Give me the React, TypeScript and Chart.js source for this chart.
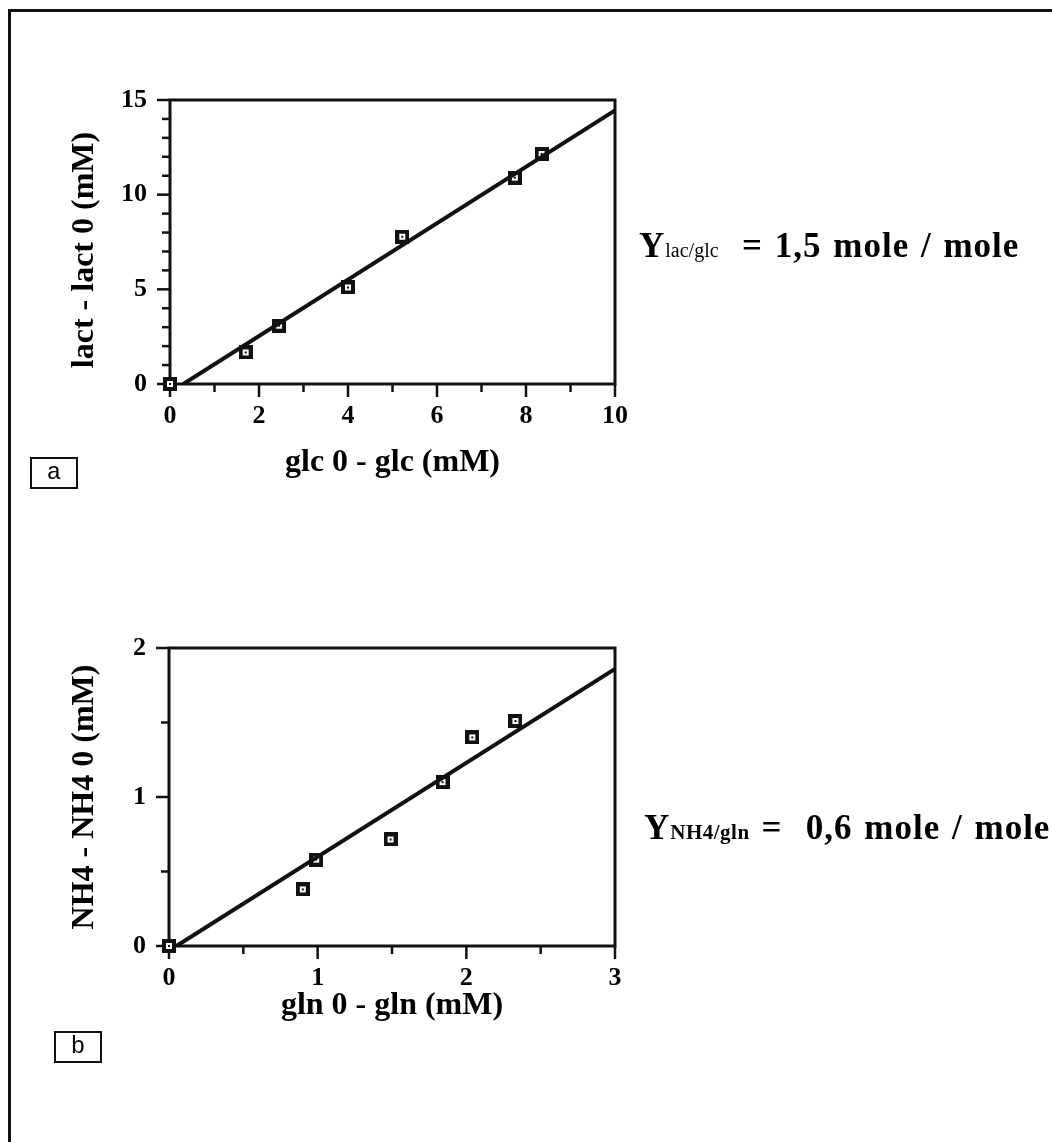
import React, { useEffect, useRef } from 'react';
import { Chart, registerables } from 'chart.js';

Chart.register(...registerables);

// ---- panel a : lactate produced vs glucose consumed ----
const glcConsumed = [0, 1.7, 2.45, 4.0, 5.22, 7.75, 8.35];
const lactProduced = [0, 1.67, 3.08, 5.1, 7.78, 10.9, 12.15];
const glcFitX = [0.3, 10];
const lactFitY = [0, 14.45];
const aXLabelled = [0, 2, 4, 6, 8, 10];
const aYLabelled = [0, 5, 10, 15];

// ---- panel b : ammonia produced vs glutamine consumed ----
const glnConsumed = [0, 0.9, 0.99, 1.49, 1.84, 2.04, 2.33];
const nh4Produced = [0, 0.38, 0.58, 0.715, 1.1, 1.4, 1.51];
const glnFitX = [0.05, 3];
const nh4FitY = [0, 1.86];
const bXLabelled = [0, 1, 2, 3];
const bYLabelled = [0, 1, 2];

const SERIF = "'Liberation Serif', 'Times New Roman', serif";

function makeMarker(): HTMLCanvasElement {
  const c = document.createElement('canvas');
  c.width = 14;
  c.height = 14;
  const g = c.getContext('2d')!;
  g.fillStyle = '#111';
  g.fillRect(0, 0, 14, 14);
  g.fillStyle = '#fff';
  g.fillRect(4, 4, 6, 6);
  g.fillStyle = '#111';
  g.fillRect(6, 6, 2, 2);
  return c;
}

const frameTicks = {
  id: 'frameTicks',
  beforeDatasetsDraw(chart: any) {
    const { ctx, chartArea } = chart;
    const { left, right, top, bottom } = chartArea;
    ctx.save();
    ctx.strokeStyle = '#111';
    ctx.lineWidth = 3;
    ctx.strokeRect(left, top, right - left, bottom - top);
    ctx.lineWidth = 2.5;
    const xs = chart.scales.x;
    const ys = chart.scales.y;
    xs.ticks.forEach((t: any, i: number) => {
      const px = xs.getPixelForTick(i);
      const len = t.label !== '' ? 13 : 8;
      ctx.beginPath();
      ctx.moveTo(px, bottom);
      ctx.lineTo(px, bottom + len);
      ctx.stroke();
    });
    ys.ticks.forEach((t: any, i: number) => {
      const py = ys.getPixelForTick(i);
      const len = t.label !== '' ? 13 : 8;
      ctx.beginPath();
      ctx.moveTo(left - len, py);
      ctx.lineTo(left, py);
      ctx.stroke();
    });
    ctx.restore();
  },
};

interface PanelProps {
  xs: number[];
  ys: number[];
  fitX: number[];
  fitY: number[];
  xMax: number;
  yMax: number;
  xStep: number;
  yStep: number;
  xLabelled: number[];
  yLabelled: number[];
  xTitle: string;
  yTitle: string;
  width: number;
  height: number;
  pad: { left: number; top: number; right: number; bottom: number };
  yWidth: number;
  xHeight: number;
}

function Panel(p: PanelProps) {
  const ref = useRef<HTMLCanvasElement>(null);
  useEffect(() => {
    const marker = makeMarker();
    const tickFont = { family: SERIF, size: 26, weight: 'bold' as const };
    const titleFont = { family: SERIF, size: 32, weight: 'bold' as const };
    const chart = new Chart(ref.current!, {
      type: 'scatter',
      data: {
        datasets: [
          {
            type: 'line',
            data: p.fitX.map((x, i) => ({ x, y: p.fitY[i] })),
            borderColor: '#111',
            borderWidth: 4,
            pointRadius: 0,
            fill: false,
          } as any,
          {
            type: 'scatter',
            data: p.xs.map((x, i) => ({ x, y: p.ys[i] })),
            pointStyle: marker,
            pointRadius: 7,
            clip: false,
          } as any,
        ],
      },
      options: {
        animation: false,
        responsive: false,
        events: [],
        layout: { padding: p.pad },
        plugins: { legend: { display: false }, tooltip: { enabled: false } },
        scales: {
          x: {
            type: 'linear',
            min: 0,
            max: p.xMax,
            grid: { display: false, drawTicks: false },
            border: { display: false },
            ticks: {
              stepSize: p.xStep,
              autoSkip: false,
              maxRotation: 0,
              padding: 17,
              color: '#000',
              font: tickFont,
              callback: (v: any) => (p.xLabelled.includes(Number(v)) ? String(v) : ''),
            },
            title: { display: true, text: p.xTitle, color: '#000', font: titleFont, padding: 0 },
            afterFit: (s: any) => {
              s.height = p.xHeight;
              s.paddingLeft = 0;
              s.paddingRight = 0;
            },
          },
          y: {
            type: 'linear',
            min: 0,
            max: p.yMax,
            grid: { display: false, drawTicks: false },
            border: { display: false },
            ticks: {
              stepSize: p.yStep,
              autoSkip: false,
              padding: 23,
              color: '#000',
              font: tickFont,
              callback: (v: any) => (p.yLabelled.includes(Number(v)) ? String(v) : ''),
            },
            title: { display: true, text: p.yTitle, color: '#000', font: titleFont, padding: 0 },
            afterFit: (s: any) => {
              s.width = p.yWidth;
              s.paddingTop = 0;
              s.paddingBottom = 0;
            },
          },
        },
      },
      plugins: [frameTicks],
    });
    return () => chart.destroy();
  }, []);
  return <canvas ref={ref} width={p.width} height={p.height} />;
}

const eqStyle: React.CSSProperties = {
  position: 'absolute',
  fontFamily: SERIF,
  fontWeight: 'bold',
  fontSize: 35,
  lineHeight: '40px',
  letterSpacing: '1px',
  wordSpacing: '2px',
  whiteSpace: 'pre',
  color: '#000',
};

const boxStyle: React.CSSProperties = {
  position: 'absolute',
  width: 44,
  height: 28,
  border: '2.5px solid #111',
  fontFamily: "'Liberation Mono', monospace",
  fontSize: 24,
  lineHeight: '28px',
  textAlign: 'center',
  color: '#000',
};

export default function App() {
  return (
    <div style={{ position: 'absolute', left: 0, top: 0, width: 1052, height: 1142, background: '#fff', overflow: 'hidden' }}>
      {/* figure frame */}
      <div style={{ position: 'absolute', left: 8, top: 9, width: 1044, height: 3, background: '#111' }} />
      <div style={{ position: 'absolute', left: 8, top: 9, width: 3, height: 1133, background: '#111' }} />

      <div style={{ position: 'absolute', left: 0, top: 60 }}>
        <Panel
          xs={glcConsumed}
          ys={lactProduced}
          fitX={glcFitX}
          fitY={lactFitY}
          xMax={10}
          yMax={15}
          xStep={1}
          yStep={1}
          xLabelled={aXLabelled}
          yLabelled={aYLabelled}
          xTitle="glc 0 - glc (mM)"
          yTitle="lact - lact 0 (mM)  "
          width={660}
          height={440}
          pad={{ left: 66, top: 40, right: 45, bottom: 18 }}
          yWidth={104}
          xHeight={98}
        />
      </div>

      <div style={{ position: 'absolute', left: 0, top: 600 }}>
        <Panel
          xs={glnConsumed}
          ys={nh4Produced}
          fitX={glnFitX}
          fitY={nh4FitY}
          xMax={3}
          yMax={2}
          xStep={0.5}
          yStep={0.5}
          xLabelled={bXLabelled}
          yLabelled={bYLabelled}
          xTitle="gln 0 - gln (mM)"
          yTitle="NH4 - NH4 0 (mM)"
          width={660}
          height={460}
          pad={{ left: 66, top: 48, right: 45, bottom: 35 }}
          yWidth={103}
          xHeight={79}
        />
      </div>

      <div style={{ ...eqStyle, left: 639, top: 226 }}>
        Y<span style={{ fontSize: 20, fontWeight: 'normal', letterSpacing: '0px', wordSpacing: '0px' }}>lac/glc</span>{'  = 1,5 mole / mole'}
      </div>
      <div style={{ ...eqStyle, left: 644, top: 808 }}>
        Y<span style={{ fontSize: 21, letterSpacing: '0.5px', wordSpacing: '0px' }}>NH4/gln</span>{' =  0,6 mole / mole'}
      </div>

      <div style={{ ...boxStyle, left: 30, top: 457 }}>a</div>
      <div style={{ ...boxStyle, left: 54, top: 1031 }}>b</div>
    </div>
  );
}
